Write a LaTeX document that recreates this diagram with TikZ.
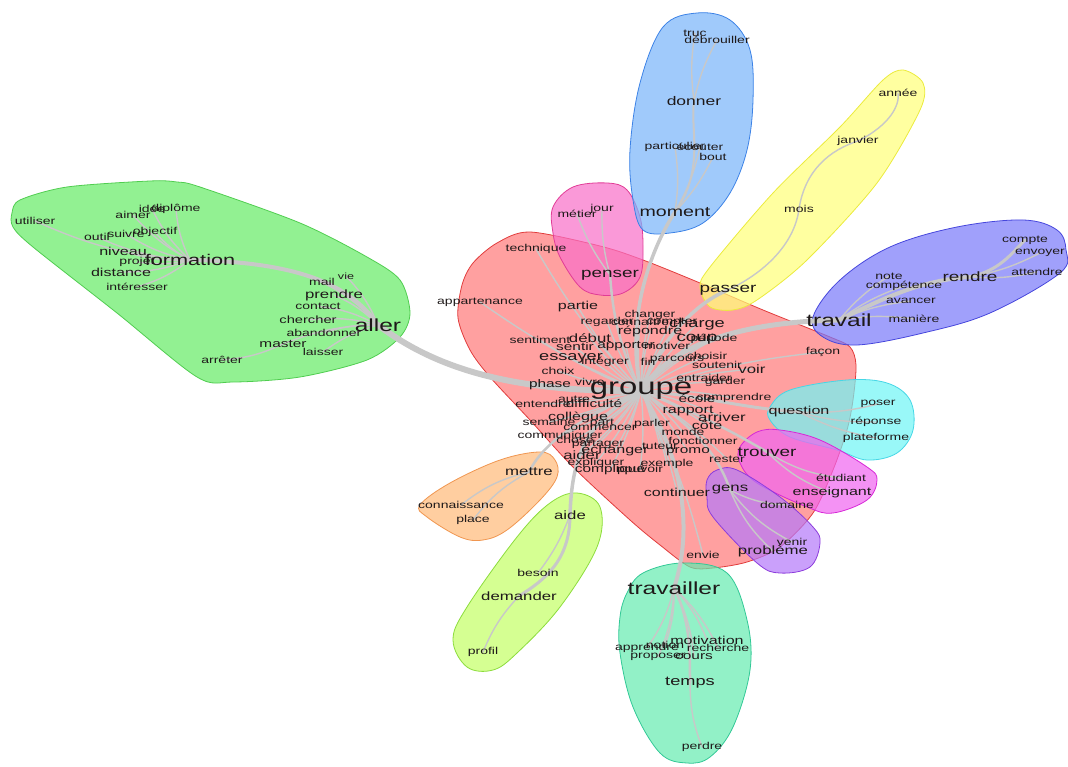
\documentclass[tikz,border=0pt]{standalone}
\usepackage{fontspec}
\newfontfamily\wordfont{Liberation Sans}[FakeStretch=1.4]
\usepackage{tikz}
\usetikzlibrary{calc}

\definecolor{wordink}{RGB}{30,25,25}
\definecolor{linkgray}{RGB}{200,200,200}
\definecolor{redfill}{RGB}{255,120,120}   \definecolor{redline}{RGB}{225,60,60}
\definecolor{greenfill}{RGB}{100,235,100} \definecolor{greenline}{RGB}{80,205,80}
\definecolor{pinkfill}{RGB}{248,110,200}  \definecolor{pinkline}{RGB}{225,60,150}
\definecolor{bluefill}{RGB}{120,180,250}  \definecolor{blueline}{RGB}{60,130,230}
\definecolor{yellowfill}{RGB}{255,255,120}\definecolor{yellowline}{RGB}{235,235,60}
\definecolor{violetfill}{RGB}{120,120,250}\definecolor{violetline}{RGB}{70,70,220}
\definecolor{cyanfill}{RGB}{110,245,245}  \definecolor{cyanline}{RGB}{70,215,230}
\definecolor{magentafill}{RGB}{240,100,240}\definecolor{magentaline}{RGB}{215,40,215}
\definecolor{purplefill}{RGB}{180,120,250}\definecolor{purpleline}{RGB}{140,60,220}
\definecolor{orangefill}{RGB}{255,185,120}\definecolor{orangeline}{RGB}{240,150,80}
\definecolor{limefill}{RGB}{195,255,100}  \definecolor{limeline}{RGB}{140,220,60}
\definecolor{mintfill}{RGB}{100,235,175}  \definecolor{mintline}{RGB}{50,200,150}

\pgfdeclarelayer{blobs}
\pgfdeclarelayer{links}
\pgfsetlayers{blobs,links,main}

\begin{document}
\begin{tikzpicture}[
    x=1pt, y=-1pt,
    word/.style={font=\wordfont\fontsize{#1}{#1}\selectfont, inner sep=0pt, text=wordink},
    word/.default=10,
    blob/.style 2 args={fill=#1, draw=#2, fill opacity=0.7, line width=0.8pt},
    wordlink/.style={draw=linkgray, line width=#1, line cap=round},
    wordlink/.default=1.4pt,
  ]
    \useasboundingbox (0,0) rectangle (1068,767);

    % formation / aller
    \node[word] (utiliser) at (35,221) {utiliser};
    \node[word] (aimer) at (133,215) {aimer};
    \node[word] (idee) at (152,209) {idée};
    \node[word] (diplome) at (176,209) {diplôme};
    \node[word] (outil) at (97,237) {outil};
    \node[word] (suivre) at (126,234) {suivre};
    \node[word] (objectif) at (155,232) {objectif};
    \node[word=11.5] (niveau) at (123,251) {niveau};
    \node[word] (projet) at (137,262) {projet};
    \node[word=15.5] (formation) at (190,260) {formation};
    \node[word=11.5] (distance) at (121,272) {distance};
    \node[word] (interesser) at (137,287) {intéresser};
    \node[word=9] (vie) at (346,276) {vie};
    \node[word] (mail) at (322,282) {mail};
    \node[word=12] (prendre) at (334,295) {prendre};
    \node[word] (contact) at (318,306) {contact};
    \node[word=10.5] (chercher) at (308,320) {chercher};
    \node[word=17.5] (aller) at (378,325) {aller};
    \node[word] (abandonner) at (324,333) {abandonner};
    \node[word=11] (master) at (283,344) {master};
    \node[word] (laisser) at (323,352) {laisser};
    \node[word] (arreter) at (222,360) {arrêter};

    % groupe
    \node[word] (technique) at (536,249) {technique};
    \node[word] (appartenance) at (480,302) {appartenance};
    \node[word=11.5] (partie) at (578,307) {partie};
    \node[word] (changer) at (650,315) {changer};
    \node[word] (regarder) at (607,322) {regarder};
    \node[word] (connaitre) at (640,322) {connaître};
    \node[word] (compter) at (672,322) {compter};
    \node[word=13] (charge) at (697,324) {charge};
    \node[word=11.5] (repondre) at (650,331) {répondre};
    \node[word=12] (debut) at (590,338) {début};
    \node[word] (sentiment) at (540,340) {sentiment};
    \node[word=11] (sentir) at (575,347) {sentir};
    \node[word=11] (apporter) at (626,346) {apporter};
    \node[word] (motiver) at (667,346) {motiver};
    \node[word=13.5] (coup) at (697,339) {coup};
    \node[word] (periode) at (714,339) {période};
    \node[word=13] (essayer) at (571,358) {essayer};
    \node[word] (integrer) at (605,362) {intégrer};
    \node[word] (fin) at (648,362) {fin};
    \node[word] (parcours) at (677,360) {parcours};
    \node[word] (choisir) at (707,356) {choisir};
    \node[word] (soutenir) at (717,365) {soutenir};
    \node[word=12] (voir) at (752,369) {voir};
    \node[word] (choix) at (558,371) {choix};
    \node[word=11] (phase) at (550,385) {phase};
    \node[word] (vivre) at (590,382) {vivre};
    \node[word=23.5] (groupe) at (641,391) {groupe};
    \node[word] (entraider) at (704,378) {entraider};
    \node[word] (garder) at (725,382) {garder};
    \node[word=11] (ecole) at (697,399) {école};
    \node[word] (comprendre) at (734,398) {comprendre};
    \node[word=11] (difficulte) at (594,404) {difficulté};
    \node[word] (entendre) at (543,404) {entendre};
    \node[word] (autre) at (574,399) {autre};
    \node[word=11.5] (rapport) at (688,411) {rapport};
    \node[word=12] (arriver) at (722,417) {arriver};
    \node[word=11.5] (collegue) at (578,417) {collègue};
    \node[word] (semaine) at (549,422) {semaine};
    \node[word] (part) at (602,423) {part};
    \node[word] (parler) at (652,424) {parler};
    \node[word=11.5] (cote) at (707,425) {côté};
    \node[word] (commencer) at (600,428) {commencer};
    \node[word] (monde) at (683,432) {monde};
    \node[word] (communiquer) at (560,436) {communiquer};
    \node[word] (chose) at (575,440) {chose};
    \node[word] (fonctionner) at (703,441) {fonctionner};
    \node[word] (partager) at (598,444) {partager};
    \node[word] (tuteur) at (660,446) {tuteur};
    \node[word=11.5] (echanger) at (615,450) {échanger};
    \node[word=11] (promo) at (688,452) {promo};
    \node[word=12] (aider) at (582,455) {aider};
    \node[word] (rester) at (727,459) {rester};
    \node[word] (expliquer) at (596,463) {expliquer};
    \node[word] (exemple) at (667,464) {exemple};
    \node[word=11] (complique) at (610,470) {compliqué};
    \node[word] (pouvoir) at (640,470) {pouvoir};
    \node[word=11.5] (continuer) at (677,492) {continuer};
    \node[word] (envie) at (703,555) {envie};
    \node[word] (facon) at (823,352) {façon};

    % passer
    \node[word=13.5] (passer) at (728,290) {passer};
    \node[word] (mois) at (799,209) {mois};
    \node[word] (janvier) at (858,141) {janvier};
    \node[word] (annee) at (898,93) {année};

    % travail
    \node[word=17.5] (travail) at (839,320) {travail};
    \node[word] (note) at (889,276) {note};
    \node[word] (competence) at (904,286) {compétence};
    \node[word=13.5] (rendre) at (970,277) {rendre};
    \node[word] (avancer) at (911,301) {avancer};
    \node[word] (maniere) at (914,319) {manière};
    \node[word] (compte) at (1025,240) {compte};
    \node[word] (envoyer) at (1040,253) {envoyer};
    \node[word] (attendre) at (1037,272) {attendre};

    % moment / donner
    \node[word=12.5] (donner) at (694,101) {donner};
    \node[word] (truc) at (695,33) {truc};
    \node[word] (debrouiller) at (717,40) {débrouiller};
    \node[word] (particulier) at (675,147) {particulier};
    \node[word] (ecouter) at (700,147) {écouter};
    \node[word] (bout) at (713,157) {bout};
    \node[word=14] (moment) at (675,212) {moment};

    % penser
    \node[word=13.5] (penser) at (610,275) {penser};
    \node[word] (metier) at (577,214) {métier};
    \node[word] (jour) at (602,209) {jour};

    % question
    \node[word=11.5] (question) at (799,412) {question};
    \node[word] (poser) at (878,404) {poser};
    \node[word] (reponse) at (876,422) {réponse};
    \node[word] (plateforme) at (876,438) {plateforme};

    % trouver
    \node[word=13.5] (trouver) at (767,452) {trouver};
    \node[word] (etudiant) at (841,478) {étudiant};
    \node[word=11.5] (enseignant) at (832,493) {enseignant};

    % gens
    \node[word=12] (gens) at (730,490) {gens};
    \node[word] (domaine) at (787,505) {domaine};
    \node[word] (venir) at (792,542) {venir};
    \node[word=12] (probleme) at (773,551) {problème};

    % mettre
    \node[word=12] (mettre) at (529,472) {mettre};
    \node[word] (connaissance) at (461,505) {connaissance};
    \node[word] (place) at (473,520) {place};

    % aide
    \node[word=12] (aide) at (570,515) {aide};
    \node[word] (besoin) at (538,573) {besoin};
    \node[word=12] (demander) at (519,596) {demander};
    \node[word] (profil) at (483,652) {profil};

    % travailler
    \node[word=17.5] (travailler) at (674,588) {travailler};
    \node[word=11.5] (motivation) at (707,640) {motivation};
    \node[word] (apprendre) at (647,648) {apprendre};
    \node[word] (notion) at (665,645) {notion};
    \node[word] (recherche) at (718,648) {recherche};
    \node[word] (proposer) at (658,657) {proposer};
    \node[word=11] (cours) at (694,657) {cours};
    \node[word=13] (temps) at (690,683) {temps};
    \node[word] (perdre) at (702,747) {perdre};

    \begin{pgfonlayer}{links}
    \draw[wordlink=6pt] (groupe.center) .. controls (520,392) and (440,372) .. (aller.center);
    \draw[wordlink=4pt] (aller.center) .. controls (350,285) and (300,262) .. (formation.center);
    \draw[wordlink=5pt] (groupe.center) .. controls (670,345) and (740,322) .. (travail.center);
    \draw[wordlink=4pt] (travail.center) .. controls (880,300) and (920,280) .. (rendre.center);
    \draw[wordlink=3pt] (rendre.center) .. controls (1000,270) and (1010,255) .. (compte.center);
    \draw[wordlink=3.5pt] (groupe.center) .. controls (655,350) and (690,305) .. (passer.center);
    \draw[wordlink=3.5pt] (groupe.center) .. controls (625,320) and (650,250) .. (moment.center);
    \draw[wordlink=2.5pt] (groupe.center) .. controls (615,340) and (612,300) .. (penser.center);
    \draw[wordlink=4pt] (groupe.center) .. controls (690,470) and (690,540) .. (travailler.center);
    \draw[wordlink=3.5pt] (groupe.center) .. controls (590,420) and (572,450) .. (aide.center);
    \draw[wordlink=3pt] (aide.center) .. controls (570,560) and (545,580) .. (demander.center);
    \draw[wordlink=2.5pt] (groupe.center) .. controls (580,420) and (545,440) .. (mettre.center);
    \draw[wordlink=3pt] (groupe.center) .. controls (700,395) and (740,408) .. (question.center);
    \draw[wordlink=2.5pt] (groupe.center) .. controls (690,410) and (730,430) .. (trouver.center);
    \draw[wordlink=2.5pt] (groupe.center) .. controls (700,430) and (720,460) .. (gens.center);
    \draw[wordlink=2.5pt] (travailler.center) .. controls (690,620) and (690,650) .. (temps.center);
    \draw[wordlink] (passer.center) .. controls (770,270) and (795,240) .. (mois.center);
    \draw[wordlink] (mois.center) .. controls (805,170) and (830,150) .. (janvier.center);
    \draw[wordlink] (janvier.center) .. controls (890,125) and (900,105) .. (annee.center);
    \draw[wordlink=2pt] (moment.center) .. controls (705,170) and (690,130) .. (donner.center);
    \foreach \w in {utiliser,aimer,idee,diplome,outil,suivre,objectif,niveau,projet,distance,interesser}
      \draw[wordlink] (formation.center) to[bend left=10] (\w.center);
    \foreach \w in {vie,mail,prendre,contact,chercher,abandonner,master,laisser}
      \draw[wordlink] (aller.center) to[bend right=10] (\w.center);
    \draw[wordlink] (master.center) to[bend left=10] (arreter.center);
    \foreach \w in {technique,appartenance,partie,changer,regarder,connaitre,compter,charge,repondre,
                    debut,sentiment,sentir,apporter,motiver,coup,periode,essayer,integrer,fin,parcours,
                    choisir,soutenir,voir,choix,phase,vivre,entraider,garder,ecole,comprendre,difficulte,
                    entendre,autre,rapport,arriver,collegue,semaine,part,parler,cote,commencer,monde,
                    communiquer,chose,fonctionner,partager,tuteur,echanger,promo,aider,rester,expliquer,
                    exemple,complique,pouvoir,continuer,envie,facon}
      \draw[wordlink] (groupe.center) to[bend left=6] (\w.center);
    \foreach \w in {truc,debrouiller}
      \draw[wordlink] (donner.center) to[bend left=8] (\w.center);
    \foreach \w in {particulier,ecouter,bout}
      \draw[wordlink] (moment.center) to[bend right=8] (\w.center);
    \foreach \w in {metier,jour}
      \draw[wordlink] (penser.center) to[bend left=8] (\w.center);
    \foreach \w in {note,competence,avancer,maniere}
      \draw[wordlink] (travail.center) to[bend left=8] (\w.center);
    \foreach \w in {envoyer,attendre}
      \draw[wordlink] (rendre.center) to[bend right=8] (\w.center);
    \foreach \w in {poser,reponse,plateforme}
      \draw[wordlink] (question.center) to[bend right=8] (\w.center);
    \foreach \w in {etudiant,enseignant}
      \draw[wordlink] (trouver.center) to[bend right=12] (\w.center);
    \foreach \w in {domaine,venir,probleme}
      \draw[wordlink] (gens.center) to[bend right=12] (\w.center);
    \foreach \w in {connaissance,place}
      \draw[wordlink] (mettre.center) to[bend right=12] (\w.center);
    \draw[wordlink] (aide.center) to[bend left=8] (besoin.center);
    \draw[wordlink] (demander.center) to[bend right=10] (profil.center);
    \foreach \w in {motivation,apprendre,notion,recherche,proposer,cours}
      \draw[wordlink] (travailler.center) to[bend left=10] (\w.center);
    \draw[wordlink] (temps.center) to[bend right=10] (perdre.center);
    \end{pgfonlayer}

    \begin{pgfonlayer}{blobs}
    \path[blob={redfill}{redline}] plot[smooth cycle, tension=0.5] coordinates {
      (462,285) (473,263) (497,243) (530,232) (600,246) (643,260) (700,283) (763,310) (830,337)
      (850,347) (856,365) (853,400) (847,430) (833,470) (813,513) (780,547) (747,562) (713,568)
      (690,567) (660,545) (630,520) (573,467) (530,420) (490,377) (470,350) (458,318)};
    \path[blob={greenfill}{greenline}] plot[smooth cycle, tension=0.5] coordinates {
      (12,213) (20,200) (67,187) (150,181) (177,182) (200,187) (300,223) (367,257) (400,280)
      (410,313) (400,337) (367,360) (300,377) (233,382) (197,377) (117,313) (33,247) (13,227)};
    \path[blob={pinkfill}{pinkline}] plot[smooth cycle, tension=0.6] coordinates {
      (553,207) (573,187) (607,183) (627,190) (640,217) (643,247) (640,277) (623,293) (600,295)
      (580,287) (560,257) (553,233)};
    \path[blob={bluefill}{blueline}] plot[smooth cycle, tension=0.6] coordinates {
      (663,27) (697,13) (730,20) (750,50) (753,100) (747,150) (730,193) (703,223) (670,233)
      (643,230) (633,200) (630,150) (640,83)};
    \path[blob={yellowfill}{yellowline}] plot[smooth cycle, tension=0.5] coordinates {
      (883,80) (903,70) (923,83) (920,110) (877,183) (807,260) (757,300) (733,310) (710,307)
      (700,287) (710,267) (773,193) (840,127)};
    \path[blob={violetfill}{violetline}] plot[smooth cycle, tension=0.6] coordinates {
      (813,317) (840,280) (890,247) (957,227) (1023,220) (1057,230) (1066,250) (1060,273)
      (990,313) (923,333) (857,345) (823,337)};
    \path[blob={cyanfill}{cyanline}] plot[smooth cycle, tension=0.6] coordinates {
      (770,407) (790,390) (847,380) (887,383) (910,400) (913,430) (897,453) (867,460) (837,450)
      (790,437) (770,420)};
    \path[blob={magentafill}{magentaline}] plot[smooth cycle, tension=0.6] coordinates {
      (740,447) (757,432) (780,430) (820,440) (867,467) (877,480) (867,500) (833,513) (807,507)
      (757,483) (740,463)};
    \path[blob={purplefill}{purpleline}] plot[smooth cycle, tension=0.6] coordinates {
      (707,480) (717,470) (737,470) (780,497) (813,527) (820,543) (810,567) (780,573) (757,563)
      (713,517) (707,497)};
    \path[blob={orangefill}{orangeline}] plot[smooth cycle, tension=0.6] coordinates {
      (420,505) (450,483) (500,460) (540,452) (555,460) (557,477) (540,500) (507,530) (483,540)
      (460,537) (427,517)};
    \path[blob={limefill}{limeline}] plot[smooth cycle, tension=0.6] coordinates {
      (550,503) (577,493) (600,507) (597,547) (560,607) (517,653) (493,670) (467,667) (453,640)
      (467,607) (517,537)};
    \path[blob={mintfill}{mintline}] plot[smooth cycle, tension=0.6] coordinates {
      (627,593) (643,573) (683,563) (727,573) (747,620) (750,670) (733,727) (710,757) (687,763)
      (660,753) (633,707) (620,653) (620,617)};
    \end{pgfonlayer}
\end{tikzpicture}
\end{document}
